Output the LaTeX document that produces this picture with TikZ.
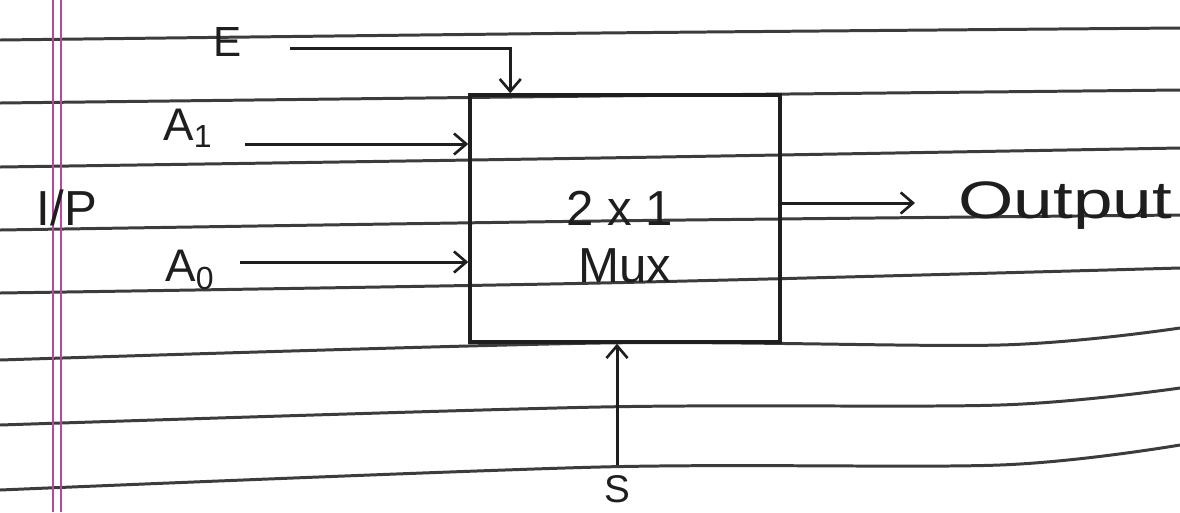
\documentclass[tikz,border=0pt]{standalone}
\usepackage{fontspec}
\setmainfont{Liberation Sans}
\usetikzlibrary{arrows.meta}
\definecolor{ink}{RGB}{30,30,30}
\definecolor{rulecol}{RGB}{60,60,60}
\definecolor{margincol}{RGB}{185,70,160}
\begin{document}
\begin{tikzpicture}[x=0.02cm,y=-0.02cm,
  rule/.style={draw=rulecol, line width=1.7pt},
  marginline/.style={draw=margincol, line width=1pt},
  wire/.style={draw=ink, line width=1.7pt, -{Straight Barb[length=7pt,width=12pt,line width=1.5pt]}},
  lbl/.style={text=ink, inner sep=0pt, font=\fontsize{#1}{#1}\selectfont},
  lbl/.default=26,
  muxbox/.style={draw=ink, line width=2pt, minimum width=6.2cm, minimum height=4.94cm, inner sep=0pt}]
\useasboundingbox (0,0) rectangle (1180,512);
\fill[white] (0,0) rectangle (1180,512);
% ruled notebook lines
\draw[rule] plot[smooth] coordinates {(0,40) (600,33) (1180,28)};
\draw[rule] plot[smooth] coordinates {(0,103) (600,96) (1180,90)};
\draw[rule] plot[smooth] coordinates {(0,167) (600,158) (1180,148)};
\draw[rule] plot[smooth] coordinates {(0,230) (600,221) (1180,215)};
\draw[rule] plot[smooth] coordinates {(0,293) (600,283) (1180,268)};
\draw[rule] plot[smooth] coordinates {(0,360) (600,343) (1000,345) (1180,328)};
\draw[rule] plot[smooth] coordinates {(0,425) (600,407) (1000,405) (1180,388)};
\draw[rule] plot[smooth] coordinates {(0,490) (600,467) (1000,465) (1180,445)};
% margin lines
\draw[marginline] (53,0) -- (53,512);
\draw[marginline] (61,0) -- (61,512);
% box
\node[muxbox] (mux) at (625,218.5) {};
\node[lbl=28] (t21) at (620,208) {2 x 1};
\node[lbl=28] (tmux) at (625,266) {Mux};
% labels
\node[lbl=24] (E) at (228,42) {E};
\node[lbl=26] (A1) at (188,128) {A\textsubscript{1}};
\node[lbl=26] (A0) at (190,270) {A\textsubscript{0}};
\node[lbl=28] (IP) at (67,208) {I/P};
\node[lbl=30, anchor=west] (out) at (958,206) {\scalebox{1.35}[1]{Output}};
\node[lbl=22] (S) at (617,489) {S};
% connector start points
\coordinate (es) at (290,48);
\coordinate (a1s) at (245,144);
\coordinate (a0s) at (240,262);
\coordinate (ss) at (617,465);
% connectors
\draw[wire] (es) -| ([xshift=0.84cm]mux.north west);
\draw[wire] (a1s) -- (a1s -| mux.west);
\draw[wire] (a0s) -- (a0s -| mux.west);
\draw[wire] (mux.east |- 0,203) -- ([xshift=-0.86cm]out.west |- 0,203);
\draw[wire] (ss) -- (ss |- mux.south);
\end{tikzpicture}
\end{document}
